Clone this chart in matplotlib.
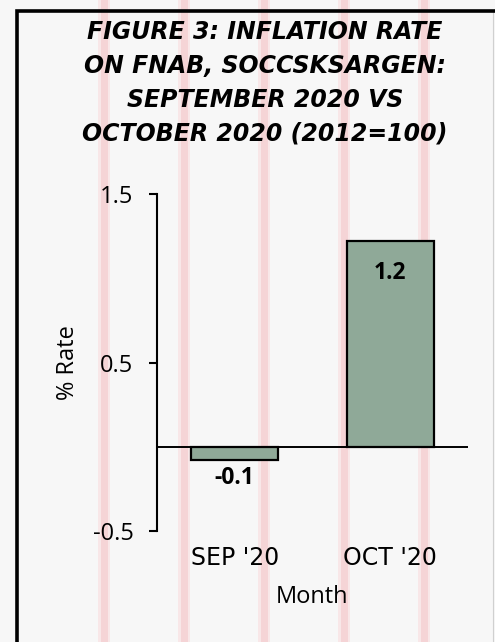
import matplotlib.pyplot as plt
from matplotlib.patches import Rectangle
from matplotlib.lines import Line2D

# data
months = ["SEP '20", "OCT '20"]
rates = [-0.08, 1.22]
yticks = [-0.5, 0.5, 1.5]
title = "FIGURE 3: INFLATION RATE\nON FNAB, SOCCSKSARGEN:\nSEPTEMBER 2020 VS\nOCTOBER 2020 (2012=100)"

plt.rcParams['font.family'] = ['Open Sans', 'DejaVu Sans']
wide = ['DejaVu Sans']  # stands in for the letter-spaced text

W, H = 495, 642
fig = plt.figure(figsize=(W / 100, H / 100), dpi=100, facecolor='#f7f7f7')

# pink background stripes
for sx in [104, 184, 264, 344, 424]:
    fig.patches.append(Rectangle(((sx - 6) / W, 0), 12 / W, 1, transform=fig.transFigure,
                                 facecolor='#f8e7e8', edgecolor='none', zorder=-6))
    fig.patches.append(Rectangle(((sx - 3.5) / W, 0), 7 / W, 1, transform=fig.transFigure,
                                 facecolor='#f5d4d6', edgecolor='none', zorder=-5))

# outer frame (only left and top visible)
fig.patches.append(Rectangle((17 / W, -0.1), 1.2, 1.1 - 10.5 / H, transform=fig.transFigure,
                             facecolor='none', edgecolor='black', linewidth=2.6, zorder=-4))
fig.lines.append(Line2D([493 / W, 493 / W], [0, 1 - 12 / H], transform=fig.transFigure,
                        color='#d0d0d0', linewidth=0.8, zorder=-4))

ax = fig.add_axes([157 / W, 1 - 531 / H, (468 - 157) / W, (531 - 194) / H])
ax.set_facecolor('none')
ax.set_zorder(2)

x = range(len(months))
ax.bar(x, rates, width=0.56, color='#8fa998', edgecolor='black', linewidth=1.6, zorder=3)
ax.axhline(0, color='black', linewidth=1.4, zorder=4)

for xi, v in zip(x, rates):
    off = -23 if v >= 0 else -13
    ax.annotate(f"{v:.1f}", (xi, v), xytext=(0, off), textcoords='offset points',
                ha='center', va='center', fontsize=16.5, fontweight='bold')

ax.set_xlim(-0.5, 1.5)
ax.set_ylim(-0.5, 1.5)
ax.set_yticks(yticks)
ax.set_yticklabels([f"{t:.1f}" for t in yticks], fontsize=17)
ax.set_xticks(list(x))
ax.set_xticklabels(months, fontsize=17, family=wide)
ax.tick_params(axis='x', length=0, pad=11)
ax.tick_params(axis='y', length=6, width=1.5, direction='out', pad=11)

for s in ['top', 'right', 'bottom']:
    ax.spines[s].set_visible(False)
ax.spines['left'].set_linewidth(1.5)

ax.set_ylabel('% Rate', fontsize=17, va='center')
ax.yaxis.set_label_coords(-0.286, 0.5)
ax.set_xlabel('Month', fontsize=17, va='center')
ax.xaxis.set_label_coords(0.5, -0.196)

fig.text(265 / W, 1 - 83 / H, title, ha='center', va='center', fontsize=17,
         fontweight='bold', fontstyle='italic', family=wide, linespacing=1.52)

fig.savefig('out.png', dpi=100, facecolor=fig.get_facecolor())
